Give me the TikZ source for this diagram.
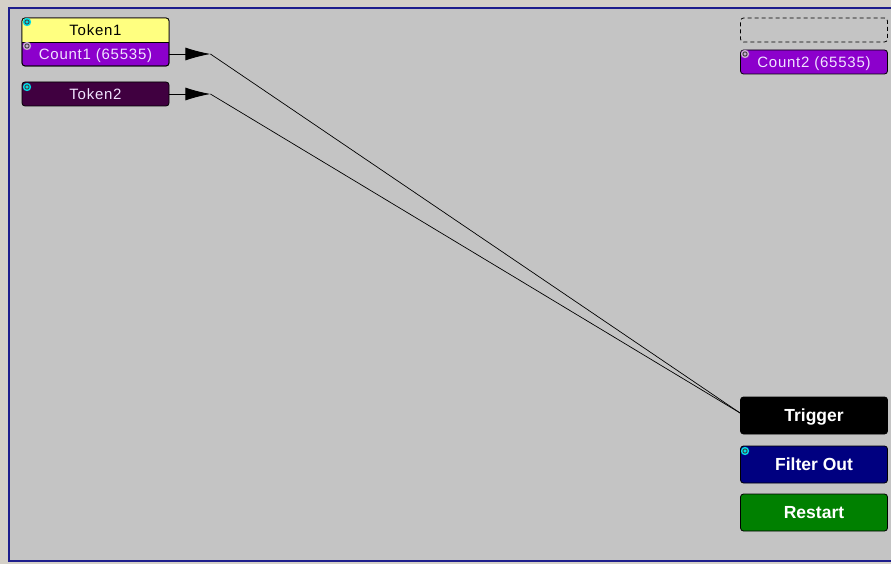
\documentclass[tikz,border=0pt]{standalone}
\usepackage{fontspec}
\setmainfont{Liberation Sans}
\usetikzlibrary{arrows.meta}
\definecolor{outerbg}{RGB}{212,208,200}
\definecolor{panel}{RGB}{196,196,196}
\definecolor{frame}{RGB}{30,30,140}
\definecolor{tokyellow}{RGB}{255,255,128}
\definecolor{cntpurple}{RGB}{140,0,204}
\definecolor{tokdark}{RGB}{64,0,64}
\definecolor{filterblue}{RGB}{0,0,128}
\definecolor{restartgreen}{RGB}{0,128,0}
\definecolor{iconcyan}{RGB}{0,220,230}
\definecolor{iconlav}{RGB}{200,170,210}
\definecolor{lighttext}{RGB}{240,228,255}
\tikzset{
  box/.style={minimum width=147pt, minimum height=24pt, inner sep=0pt,
    rounded corners=3pt, line width=0.8pt, text height=12pt, text depth=0pt,
    font=\fontsize{15}{15}\selectfont\addfontfeatures{LetterSpace=5}},
  bigbox/.style={box, minimum height=37pt, draw=black, text height=12.5pt, text depth=0pt,
    font=\fontsize{17.5}{17.5}\selectfont\bfseries, text=white},
  wire/.style={line width=0.7pt},
  tipwire/.style={line width=0.9pt, -{Latex[length=25pt,width=13pt]}},
}
\newcommand\myicon[3]{%
  \fill[#3] (#1,#2) circle (4.2);
  \draw[black!75, line width=0.9pt] (#1,#2) circle (2.1);
}
\begin{document}
\begin{tikzpicture}[x=1pt,y=-1pt]
\useasboundingbox (0,0) rectangle (891,564);
\fill[outerbg] (0,0) rectangle (891,564);
\fill[panel] (9,8) rectangle (891,561);
\draw[frame, line width=2pt] (891,8) -- (9,8) -- (9,561) -- (891,561);

% Token1 / Count1 combined block
\filldraw[fill=cntpurple, draw=black, line width=0.8pt, rounded corners=3pt] (22,18) rectangle (169,66);
\begin{scope}
  \clip (20,16) rectangle (171,42);
  \fill[tokyellow, rounded corners=3pt] (22,18) rectangle (169,66);
\end{scope}
\draw[line width=0.8pt, rounded corners=3pt] (22,18) rectangle (169,66);
\draw[line width=0.8pt] (22,42) -- (169,42);

\node[box] (token1) at (95.5,30) {Token1};
\node[box, text=lighttext] (count1) at (95.5,54) {Count1 (65535)};
\node[box, draw=black, fill=tokdark, text=lighttext] (token2) at (95.5,94) {Token2};

\node[box, draw=black, dashed, dash pattern=on 4pt off 3pt] (empty) at (814,30) {};
\node[box, draw=black, fill=cntpurple, text=lighttext] (count2) at (814,62) {Count2 (65535)};

\node[bigbox, fill=black] (trigger) at (814,415.5) {Trigger};
\node[bigbox, fill=filterblue] (filter) at (814,464.5) {Filter Out};
\node[bigbox, fill=restartgreen] (restart) at (814,512.5) {Restart};

\myicon{27}{22}{iconcyan}
\myicon{27}{46}{iconlav}
\myicon{27}{87}{iconcyan}
\myicon{745}{54}{iconlav}
\myicon{745}{451}{iconcyan}

% connectors
\draw[tipwire] (count1.east) -- ++(41,0) coordinate (a1);
\draw[tipwire] (token2.east) -- ++(41,0) coordinate (a2);
\coordinate (tin) at ([yshift=2.5pt]trigger.west);
\draw[wire] (a1) -- (tin);
\draw[wire] (a2) -- (tin);
\end{tikzpicture}
\end{document}
